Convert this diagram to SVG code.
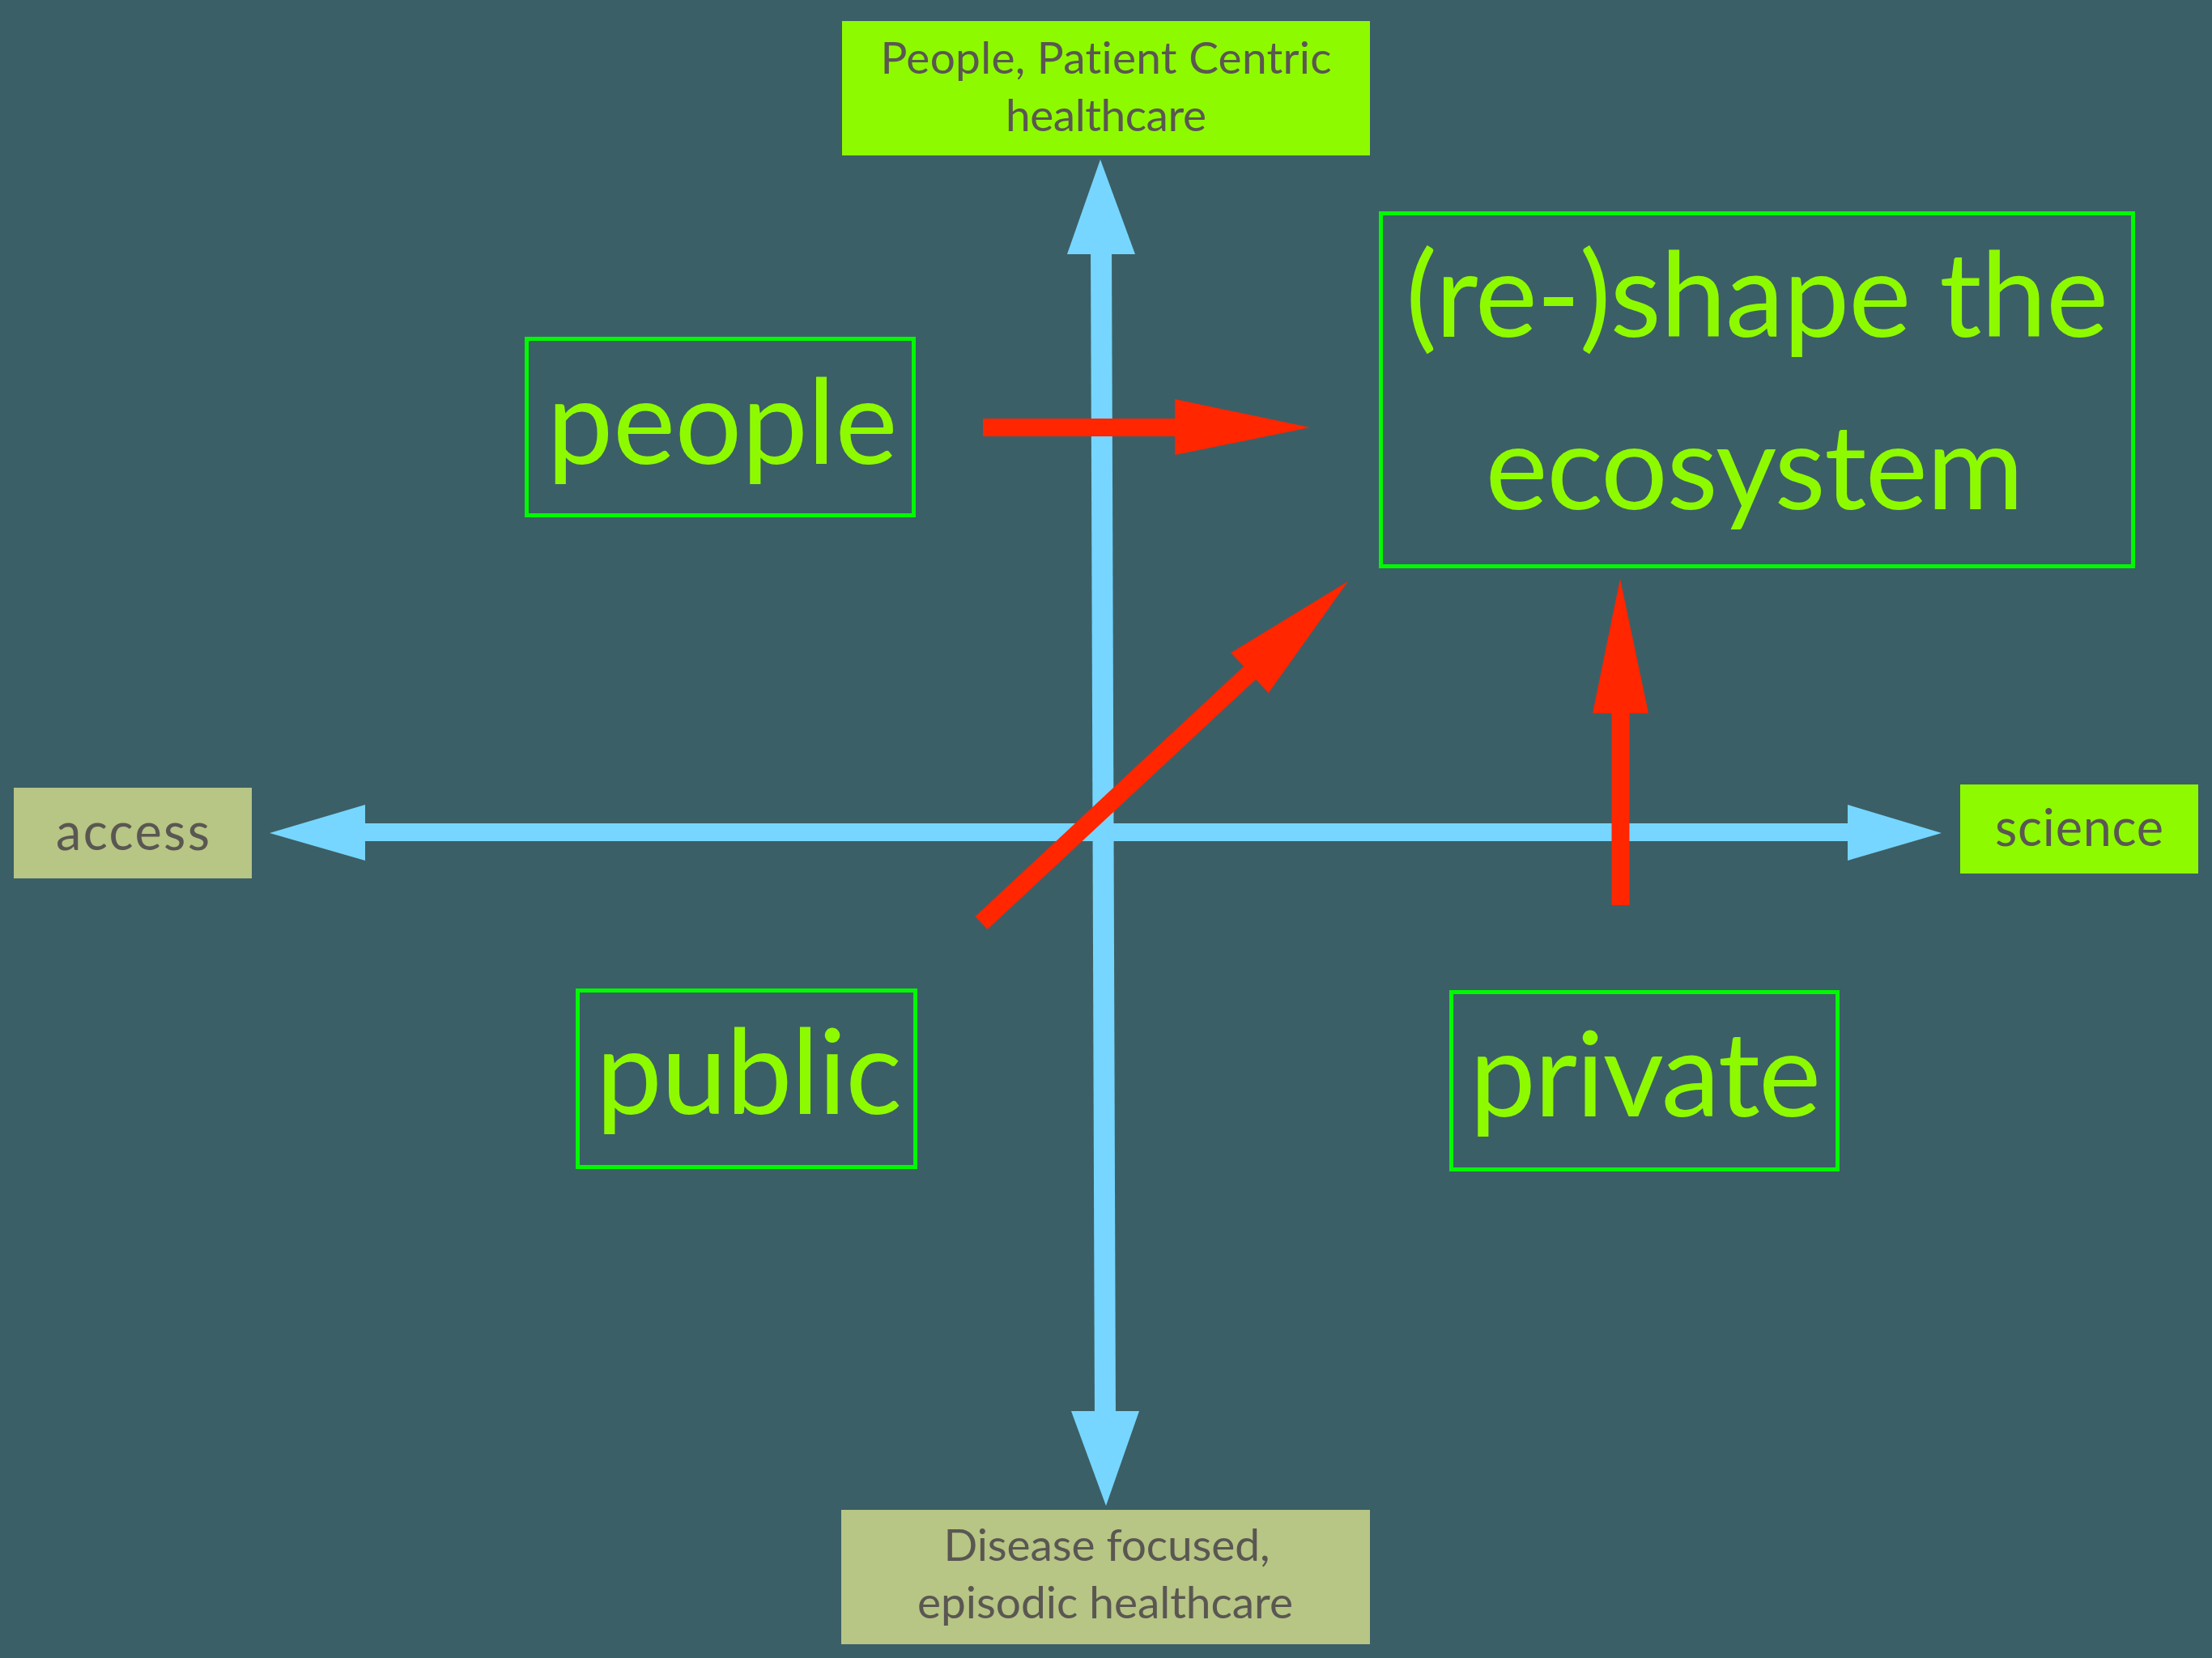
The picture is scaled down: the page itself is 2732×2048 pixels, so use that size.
<svg xmlns="http://www.w3.org/2000/svg" width="2732" height="2048" viewBox="0 0 2732 2048">
<style>
text{font-variant-ligatures:none}
.bg{fill:#3B5F66}
.lime{fill:#8EFA00}
.khaki{fill:#B7C585}
.small{font-family:Lato,"Open Sans","Liberation Sans",sans-serif;font-size:55px;fill:#5A5752;text-anchor:middle}
.mid{font-family:Lato,"Open Sans","Liberation Sans",sans-serif;font-size:63px;fill:#5A5752;text-anchor:middle}
.big{font-family:Lato,"Open Sans","Liberation Sans",sans-serif;font-size:146px;fill:#8EFA00;text-anchor:middle}
.frame{fill:none;stroke:#00F900;stroke-width:5}
.blue{stroke:#76D6FF;fill:none}
.bluehead{fill:#76D6FF}
.red{stroke:#FF2600;fill:none;stroke-width:22}
.redhead{fill:#FF2600}
</style>
<rect class="bg" x="0" y="0" width="2732" height="2048"/>

<g id="connectors">
  <g id="axis-vertical">
    <line class="blue" x1="1360" y1="300" x2="1365" y2="1755" stroke-width="26"/>
    <polygon class="bluehead" points="1359,197 1402,314 1318,314"/>
    <polygon class="bluehead" points="1366,1860 1407,1743 1323,1743"/>
  </g>
  <g id="axis-horizontal">
    <line class="blue" x1="440" y1="1028" x2="2292" y2="1028" stroke-width="22"/>
    <polygon class="bluehead" points="333,1029 451,994 451,1063"/>
    <polygon class="bluehead" points="2398,1029 2282,994 2282,1063"/>
  </g>
  <g id="arrow-people">
    <line class="red" x1="1214" y1="528" x2="1455" y2="528"/>
    <polygon class="redhead" points="1618,528 1451,493 1451,562"/>
  </g>
  <g id="arrow-public">
    <line class="red" x1="1212" y1="1140" x2="1547" y2="828"/>
    <polygon class="redhead" points="1665,718 1520.3,806.3 1566.7,856.1"/>
  </g>
  <g id="arrow-private">
    <line class="red" x1="2001.5" y1="1118" x2="2001.5" y2="877" stroke-width="21"/>
    <polygon class="redhead" points="2001,715 1967,881 2036,881"/>
  </g>
</g>

<g id="node-top">
  <rect class="lime" x="1040" y="26" width="652" height="166"/>
  <text class="small" x="1366" y="91" textLength="557">People, Patient Centric</text>
  <text class="small" x="1366" y="162" textLength="248">healthcare</text>
</g>
<g id="node-bottom">
  <rect class="khaki" x="1039" y="1865" width="653" height="166"/>
  <text class="small" x="1367" y="1928" textLength="403">Disease focused,</text>
  <text class="small" x="1365" y="1999" textLength="464">episodic healthcare</text>
</g>
<g id="node-access">
  <rect class="khaki" x="17" y="973" width="294" height="112"/>
  <text class="mid" x="164" y="1050" textLength="190">access</text>
</g>
<g id="node-science">
  <rect class="lime" x="2421" y="969" width="294" height="110"/>
  <text class="mid" x="2568" y="1045" textLength="208">science</text>
</g>
<g id="node-people">
  <rect class="frame" x="650.5" y="418.5" width="478" height="218"/>
  <text class="big" x="892" y="573" textLength="433">people</text>
</g>
<g id="node-public">
  <rect class="frame" x="713.5" y="1223.5" width="417" height="218"/>
  <text class="big" x="925" y="1376" textLength="378">public</text>
</g>
<g id="node-private">
  <rect class="frame" x="1792.5" y="1225.5" width="477" height="219"/>
  <text class="big" x="2032" y="1379" textLength="434">private</text>
</g>
<g id="node-reshape">
  <rect class="frame" x="1705.5" y="263.5" width="929" height="436"/>
  <text class="big" x="2170" y="416" textLength="868">(re-)shape the</text>
  <text class="big" x="2167" y="629" textLength="665">ecosystem</text>
</g>
</svg>
